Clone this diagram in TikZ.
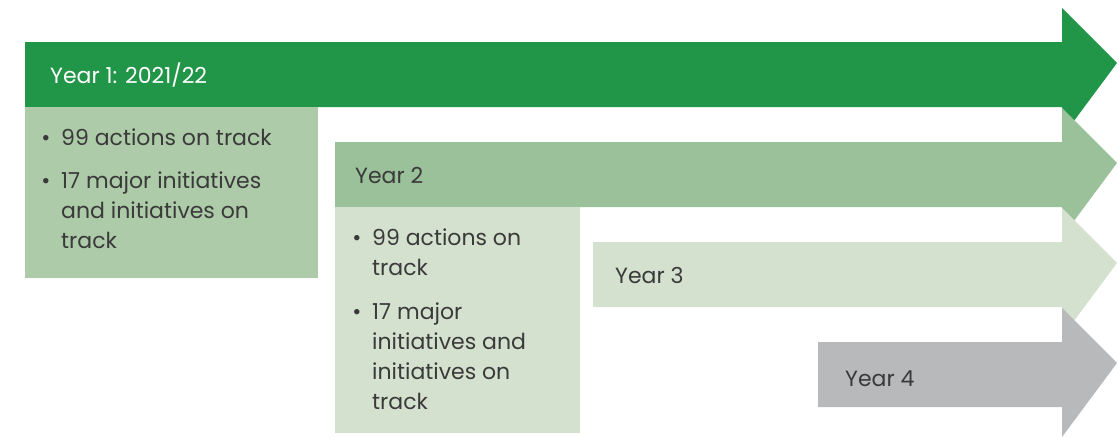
\documentclass[tikz,border=0pt]{standalone}
\usepackage{fontspec}
\setmainfont{Poppins}
\definecolor{g1}{HTML}{219648}
\definecolor{g1box}{HTML}{ADCBA8}
\definecolor{g2}{HTML}{9AC19A}
\definecolor{g3}{HTML}{D5E1CF}
\definecolor{g4}{HTML}{B8B9BB}
\definecolor{txt}{HTML}{3A3A3A}
\newcommand\yeararrow[3]{\fill[#3] (#1,#2) -- (1062,#2) -- (1062,{#2-34}) -- (1117,{#2+21}) -- (1062,{#2+95}) -- (1062,{#2+65}) -- (#1,{#2+65}) -- cycle;}
\tikzset{
  lbl/.style={anchor=base west, inner sep=0pt, text=txt, font=\fontsize{22}{30}\selectfont},
  bul/.style={anchor=base, inner sep=0pt, text=txt, font=\fontsize{22}{30}\selectfont},
}
\begin{document}
\begin{tikzpicture}[x=1pt,y=-1pt]
\useasboundingbox (0,0) rectangle (1119,437);
% arrows and boxes
\yeararrow{25}{42}{g1}
\fill[g1box] (25,107) rectangle (318,278);
\yeararrow{335}{142}{g2}
\fill[g3] (335,207) rectangle (580,433);
\yeararrow{593}{242}{g3}
\yeararrow{818}{342}{g4}
% labels
\node[lbl, text=white] (y1) at (50,83) {Year 1: 2021/22};
\node[lbl] (y2) at (355,183) {Year 2};
\node[lbl] (y3) at (615,283) {Year 3};
\node[lbl] (y4) at (845,386) {Year 4};
% box 1
\node[bul] (b1a) at (46,145) {•};
\node[lbl] (t1a) at (61,145) {99 actions on track};
\node[bul] (b1b) at (46,188) {•};
\node[lbl] (t1b) at (61,188) {17 major initiatives};
\node[lbl] (t1c) at (61,218) {and initiatives on};
\node[lbl] (t1d) at (61,248) {track};
% box 2
\node[bul] (b2a) at (357,245) {•};
\node[lbl] (t2a) at (372,245) {99 actions on};
\node[lbl] (t2b) at (372,275) {track};
\node[bul] (b2b) at (357,319) {•};
\node[lbl] (t2c) at (372,319) {17 major};
\node[lbl] (t2d) at (372,349) {initiatives and};
\node[lbl] (t2e) at (372,379) {initiatives on};
\node[lbl] (t2f) at (372,409) {track};
\end{tikzpicture}
\end{document}
